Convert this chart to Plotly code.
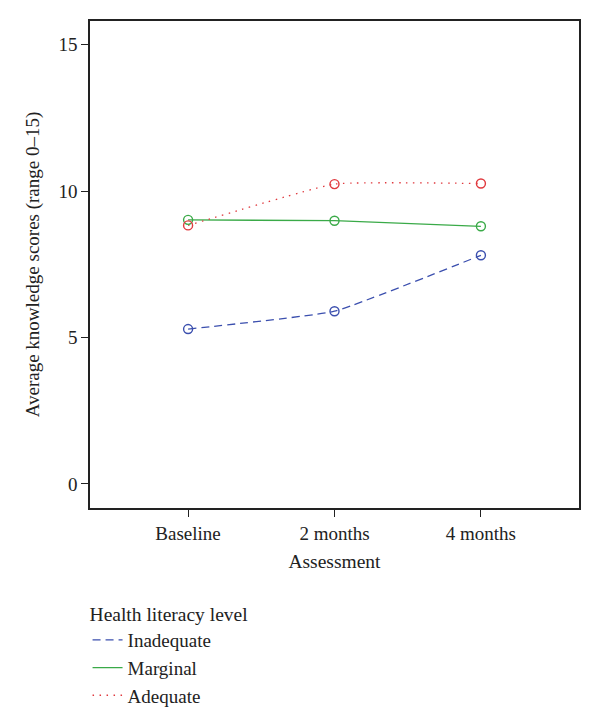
import plotly.graph_objects as go

categories = ["Baseline", "2 months", "4 months"]
x_pos = [1, 2, 3]
inadequate = [5.29, 5.90, 7.81]
marginal = [9.02, 8.99, 8.80]
adequate = [8.83, 10.24, 10.26]
y_ticks = [0, 5, 10, 15]

FONT = "Liberation Serif"

fig = go.Figure()
series = [
    ("Inadequate", inadequate, "#3b4fae", "8px,5px"),
    ("Marginal", marginal, "#3aaa48", "solid"),
    ("Adequate", adequate, "#e0393e", "1.5px,5.5px"),
]
for name, vals, col, dash in series:
    fig.add_trace(go.Scatter(
        x=x_pos, y=vals, name=name, mode="lines",
        line=dict(color=col, width=1.3, dash=dash, shape="spline", smoothing=0.35),
        showlegend=True,
    ))
for name, vals, col, dash in series:
    fig.add_trace(go.Scatter(
        x=x_pos, y=vals, name=name, mode="markers", showlegend=False,
        marker=dict(symbol="circle-open", size=9, color=col, line=dict(width=1.4, color=col)),
    ))

fig.update_layout(
    width=600, height=726,
    margin=dict(l=82, r=29, t=13, b=226),
    plot_bgcolor="white", paper_bgcolor="white",
    font=dict(family=FONT, size=19, color="#222"),
    xaxis=dict(
        range=[0.33, 3.67], tickmode="array", tickvals=x_pos, ticktext=categories,
        showgrid=False, zeroline=False, showline=True, mirror=True,
        linecolor="#222", linewidth=1.5, ticks="outside", ticklen=7, tickcolor="#222",
        tickfont=dict(family=FONT, size=19),
        title=dict(text="Assessment", font=dict(family=FONT, size=19.5), standoff=12),
    ),
    yaxis=dict(
        range=[-0.82, 15.81], tickmode="array", tickvals=y_ticks,
        showgrid=False, zeroline=False, showline=True, mirror=True,
        linecolor="#222", linewidth=1.5, ticks="outside", ticklen=7, tickcolor="#222",
        tickfont=dict(family=FONT, size=19),
        title=dict(text="Average knowledge scores (range 0–15)", font=dict(family=FONT, size=19), standoff=14),
    ),
    legend=dict(
        title=dict(text="Health literacy level", font=dict(family=FONT, size=19.5)),
        x=-0.005, xanchor="left", y=-0.18, yanchor="top",
        font=dict(family=FONT, size=19), tracegroupgap=0,
        itemwidth=30,
    ),
    showlegend=True,
)

fig.write_html("out.html")
